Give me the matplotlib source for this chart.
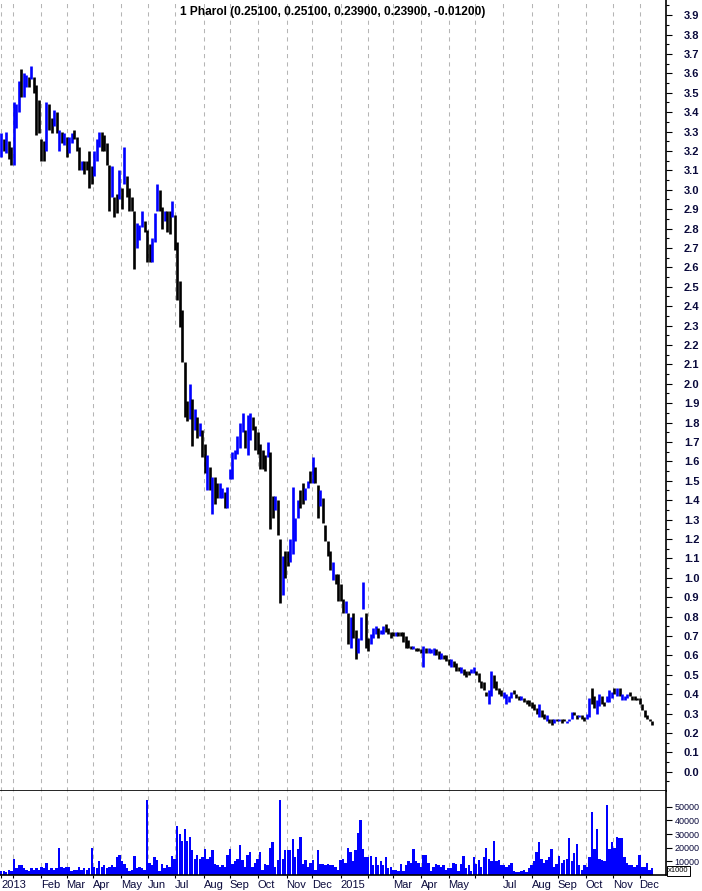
import numpy as np
import pandas as pd
import matplotlib
matplotlib.use("Agg")
import matplotlib.pyplot as plt

plt.rcParams["font.family"] = ["Liberation Sans", "DejaVu Sans"]

# one bar every two trading days, from mid Dec 2013 to mid Dec 2015
high = [
    3.29, 3.26, 3.30, 3.25, 3.22, 3.45, 3.44, 3.56, 3.62, 3.60,
    3.59, 3.58, 3.64, 3.58, 3.54, 3.46, 3.26, 3.25, 3.45, 3.44,
    3.37, 3.41, 3.40, 3.31, 3.30, 3.29, 3.27, 3.27, 3.29, 3.31,
    3.27, 3.22, 3.15, 3.15, 3.15, 3.20, 3.12, 3.20, 3.26, 3.30,
    3.30, 3.28, 3.24, 3.13, 3.12, 2.96, 2.98, 3.10, 3.01, 3.22,
    3.07, 3.01, 2.96, 2.89, 2.83, 2.82, 2.89, 2.84, 2.79, 2.72,
    2.75, 2.88, 3.03, 3.00, 2.91, 2.89, 2.89, 2.89, 2.94, 2.87,
    2.73, 2.53, 2.38, 2.11, 1.91, 2.00, 1.92, 1.87, 1.83, 1.80,
    1.76, 1.69, 1.63, 1.57, 1.52, 1.52, 1.49, 1.49, 1.46, 1.44,
    1.47, 1.56, 1.65, 1.66, 1.73, 1.80, 1.85, 1.76, 1.84, 1.85,
    1.83, 1.78, 1.75, 1.69, 1.66, 1.63, 1.70, 1.65, 1.42, 1.42,
    1.40, 1.20, 1.11, 1.14, 1.14, 1.20, 1.47, 1.31, 1.40, 1.45,
    1.49, 1.46, 1.50, 1.55, 1.62, 1.57, 1.48, 1.45, 1.41, 1.27,
    1.19, 1.14, 1.08, 1.02, 1.02, 0.97, 0.89, 0.88, 0.82, 0.80,
    0.82, 0.73, 0.69, 0.80, 0.98, 0.82, 0.69, 0.71, 0.74, 0.75,
    0.74, 0.73, 0.75, 0.76, 0.74, 0.72, 0.72, 0.72, 0.72, 0.72,
    0.72, 0.70, 0.68, 0.65, 0.65, 0.64, 0.64, 0.63, 0.65, 0.64,
    0.64, 0.63, 0.64, 0.63, 0.62, 0.61, 0.60, 0.60, 0.58, 0.58,
    0.57, 0.56, 0.54, 0.54, 0.53, 0.52, 0.52, 0.53, 0.54, 0.52,
    0.51, 0.47, 0.46, 0.41, 0.42, 0.52, 0.50, 0.47, 0.43, 0.42,
    0.41, 0.40, 0.39, 0.41, 0.42, 0.40, 0.39, 0.39, 0.38, 0.37,
    0.37, 0.36, 0.35, 0.33, 0.35, 0.32, 0.30, 0.29, 0.27, 0.27,
    0.27, 0.27, 0.27, 0.27, 0.27, 0.26, 0.27, 0.31, 0.31, 0.29,
    0.29, 0.29, 0.28, 0.30, 0.38, 0.43, 0.39, 0.37, 0.40, 0.39,
    0.36, 0.39, 0.42, 0.41, 0.43, 0.43, 0.43, 0.40, 0.39, 0.40,
    0.41, 0.39, 0.39, 0.38, 0.38, 0.35, 0.32, 0.29, 0.27, 0.26,
]
low = [
    3.17, 3.20, 3.19, 3.16, 3.13, 3.13, 3.32, 3.40, 3.48, 3.48,
    3.53, 3.53, 3.57, 3.50, 3.28, 3.29, 3.15, 3.15, 3.20, 3.31,
    3.29, 3.33, 3.29, 3.20, 3.24, 3.23, 3.17, 3.19, 3.24, 3.26,
    3.20, 3.10, 3.10, 3.08, 3.10, 3.01, 3.03, 3.07, 3.15, 3.22,
    3.20, 3.20, 3.13, 2.89, 2.96, 2.86, 2.88, 2.95, 2.90, 3.03,
    2.96, 2.89, 2.89, 2.59, 2.70, 2.74, 2.81, 2.78, 2.63, 2.63,
    2.63, 2.73, 2.89, 2.89, 2.80, 2.84, 2.78, 2.77, 2.86, 2.69,
    2.43, 2.29, 2.11, 1.83, 1.81, 1.82, 1.68, 1.76, 1.72, 1.73,
    1.62, 1.54, 1.45, 1.45, 1.33, 1.38, 1.41, 1.41, 1.41, 1.36,
    1.36, 1.51, 1.51, 1.61, 1.64, 1.67, 1.75, 1.67, 1.63, 1.71,
    1.76, 1.66, 1.64, 1.56, 1.56, 1.55, 1.62, 1.25, 1.31, 1.35,
    1.22, 0.87, 0.91, 1.00, 1.06, 1.08, 1.12, 1.19, 1.31, 1.36,
    1.38, 1.40, 1.46, 1.49, 1.49, 1.49, 1.31, 1.37, 1.28, 1.19,
    1.11, 1.04, 0.99, 0.97, 0.88, 0.88, 0.82, 0.82, 0.66, 0.64,
    0.69, 0.58, 0.61, 0.68, 0.84, 0.64, 0.62, 0.66, 0.69, 0.71,
    0.69, 0.71, 0.71, 0.72, 0.71, 0.69, 0.70, 0.70, 0.70, 0.70,
    0.67, 0.64, 0.64, 0.63, 0.63, 0.62, 0.62, 0.61, 0.54, 0.61,
    0.61, 0.61, 0.60, 0.60, 0.58, 0.58, 0.58, 0.57, 0.55, 0.54,
    0.54, 0.52, 0.52, 0.51, 0.50, 0.49, 0.50, 0.51, 0.51, 0.50,
    0.46, 0.43, 0.42, 0.39, 0.35, 0.39, 0.43, 0.42, 0.40, 0.39,
    0.38, 0.35, 0.36, 0.38, 0.40, 0.38, 0.37, 0.37, 0.36, 0.35,
    0.34, 0.33, 0.32, 0.30, 0.28, 0.28, 0.27, 0.26, 0.25, 0.24,
    0.25, 0.26, 0.26, 0.25, 0.26, 0.25, 0.26, 0.27, 0.29, 0.27,
    0.28, 0.27, 0.26, 0.27, 0.28, 0.35, 0.33, 0.30, 0.34, 0.35,
    0.34, 0.36, 0.36, 0.38, 0.40, 0.39, 0.39, 0.37, 0.37, 0.38,
    0.39, 0.37, 0.37, 0.37, 0.35, 0.32, 0.28, 0.27, 0.26, 0.24,
]
# 1 = closed up (blue), 0 = closed down (black)
up = [
    1, 0, 1, 0, 0, 1, 1, 1, 0, 1,
    1, 0, 1, 0, 0, 0, 0, 0, 1, 0,
    0, 1, 0, 1, 0, 1, 0, 1, 1, 0,
    0, 0, 1, 0, 0, 0, 0, 1, 1, 1,
    0, 0, 0, 0, 1, 0, 0, 1, 0, 1,
    0, 0, 0, 0, 1, 1, 1, 0, 0, 0,
    1, 1, 1, 0, 0, 1, 0, 0, 1, 0,
    0, 0, 0, 0, 0, 1, 0, 1, 0, 1,
    0, 0, 1, 0, 1, 0, 0, 1, 1, 0,
    1, 1, 1, 1, 1, 1, 1, 0, 1, 1,
    0, 0, 0, 0, 0, 0, 1, 0, 0, 1,
    0, 0, 1, 0, 0, 1, 1, 1, 1, 0,
    0, 1, 1, 0, 1, 0, 0, 1, 0, 0,
    0, 0, 1, 0, 0, 0, 0, 1, 0, 1,
    0, 0, 1, 1, 1, 0, 0, 1, 1, 1,
    0, 1, 1, 0, 0, 0, 0, 1, 0, 0,
    0, 0, 0, 0, 1, 0, 0, 0, 1, 0,
    1, 1, 1, 0, 0, 1, 0, 0, 0, 1,
    0, 0, 0, 1, 0, 0, 0, 1, 1, 0,
    0, 0, 0, 0, 1, 1, 0, 0, 0, 0,
    1, 1, 1, 1, 0, 0, 0, 1, 0, 0,
    0, 0, 0, 0, 1, 0, 0, 1, 0, 0,
    1, 0, 1, 0, 0, 1, 1, 1, 0, 0,
    1, 0, 0, 1, 1, 0, 0, 1, 1, 0,
    0, 1, 1, 1, 0, 1, 0, 1, 1, 1,
    0, 0, 0, 0, 0, 0, 0, 0, 0, 0,
]
# volume in thousands
volume = [
    3, 3, 2, 4, 3, 12, 5, 7, 7, 5,
    4, 3, 5, 4, 5, 4, 6, 5, 9, 4,
    5, 4, 5, 20, 6, 5, 6, 6, 3, 4,
    4, 6, 4, 5, 4, 5, 20, 6, 5, 10,
    6, 7, 5, 6, 7, 6, 13, 15, 10, 8,
    5, 3, 4, 14, 5, 6, 5, 4, 55, 9,
    7, 13, 11, 3, 8, 5, 7, 6, 14, 12,
    36, 30, 25, 34, 25, 28, 18, 12, 15, 12,
    13, 19, 12, 13, 18, 8, 7, 6, 7, 6,
    15, 19, 8, 10, 12, 22, 11, 6, 15, 17,
    6, 9, 12, 17, 4, 8, 7, 20, 24, 6,
    11, 55, 12, 18, 18, 18, 26, 13, 19, 28,
    8, 11, 6, 9, 11, 4, 18, 8, 8, 7,
    8, 7, 7, 6, 4, 11, 12, 9, 20, 17,
    10, 18, 31, 40, 19, 13, 13, 14, 7, 13,
    7, 10, 7, 13, 5, 6, 4, 4, 3, 8,
    3, 7, 10, 9, 19, 10, 9, 6, 15, 15,
    9, 3, 6, 8, 7, 6, 7, 4, 5, 5,
    9, 8, 3, 8, 14, 5, 7, 3, 13, 8,
    11, 6, 13, 20, 12, 10, 25, 10, 11, 7,
    7, 6, 7, 9, 3, 2, 2, 3, 4, 2,
    5, 7, 10, 17, 24, 12, 9, 11, 13, 19,
    6, 8, 14, 9, 11, 12, 27, 10, 16, 23,
    7, 4, 7, 6, 13, 46, 19, 34, 12, 11,
    10, 51, 19, 24, 20, 28, 27, 27, 13, 9,
    7, 7, 6, 7, 15, 6, 6, 9, 4, 5,
]

month_labels = ["2013", "", "Feb", "Mar", "Apr", "May", "Jun", "Jul", "Aug",
                "Sep", "Oct", "Nov", "Dec", "2015", "", "Mar", "Apr", "May",
                "", "Jul", "Aug", "Sep", "Oct", "Nov", "Dec"]
title = "1 Pharol (0.25100, 0.25100, 0.23900, 0.23900, -0.01200)"

# trading-day axis
days = pd.bdate_range("2013-12-18", periods=530)
month_pos = [1] + [i for i in range(1, len(days)) if days[i].month != days[i - 1].month]
x = 1 + 2 * np.arange(len(high))
bar_colors = ["#0000ff" if u else "#000000" for u in up]

W, H = 702, 891
fig = plt.figure(figsize=(W / 100, H / 100), dpi=100)
ax = fig.add_axes([0, 100 / H, 666 / W, 791 / H])
axv = fig.add_axes([0, 16 / H, 666 / W, 84 / H])

label_color = "#0a0a3c"
grid_kw = dict(color="#b5b5b5", linewidth=0.75, linestyle=(0, (4, 4)), zorder=0)

# price panel
for m in month_pos:
    ax.axvline(m, **grid_kw)
ax.vlines(x, low, high, colors=bar_colors, linewidth=1.9, zorder=2)
ax.set_xlim(0, 530)
ax.set_ylim(-0.0995, 3.978)
for s in ["top", "left"]:
    ax.spines[s].set_visible(False)
ax.spines["right"].set_linewidth(1.2)
ax.spines["bottom"].set_linewidth(1.2)
ax.tick_params(axis="x", bottom=False, labelbottom=False)
ax.yaxis.tick_right()
yt = np.round(np.arange(0, 3.95, 0.1), 1)
ax.set_yticks(yt)
ax.set_yticklabels([f"{v:.1f}" for v in yt], fontsize=8, fontweight="bold", color=label_color)
ax.set_yticks(np.round(np.arange(-0.05, 3.97, 0.1), 2), minor=True)
ax.tick_params(axis="y", which="major", length=4.3, width=0.8, pad=8.5)
ax.tick_params(axis="y", which="minor", length=2.2, width=0.8)
ax.text(0.5, 1 - 12 / 791, title, transform=ax.transAxes, ha="center", va="center",
        fontsize=8.6, fontweight="bold",
        family=["Liberation Sans Narrow", "Liberation Sans", "DejaVu Sans"])

# volume panel
for m in month_pos:
    axv.axvline(m, **grid_kw)
axv.bar(x, np.array(volume) * 1000, width=1.9, color="#0000ff", linewidth=0, zorder=2)
axv.set_xlim(0, 530)
axv.set_ylim(0, 61500)
for s in ["top", "left"]:
    axv.spines[s].set_visible(False)
axv.spines["right"].set_linewidth(1.2)
axv.spines["bottom"].set_linewidth(1.2)
axv.yaxis.tick_right()
vt = [10000, 20000, 30000, 40000, 50000]
axv.set_yticks(vt)
axv.set_yticklabels([str(v) for v in vt], fontsize=6.5, color=label_color)
axv.tick_params(axis="y", length=4.3, width=0.8, pad=2)
axv.set_xticks(month_pos)
axv.set_xticklabels(month_labels, fontsize=8, color=label_color, ha="left")
axv.tick_params(axis="x", length=2.5, width=0.8, pad=0.8)

fig.text(668 / W, 1 - 871 / H, "x1000", fontsize=5.5, ha="left", va="center",
         bbox=dict(facecolor="white", edgecolor="black", linewidth=0.7, pad=0.8))

fig.savefig("out.png", dpi=100)
